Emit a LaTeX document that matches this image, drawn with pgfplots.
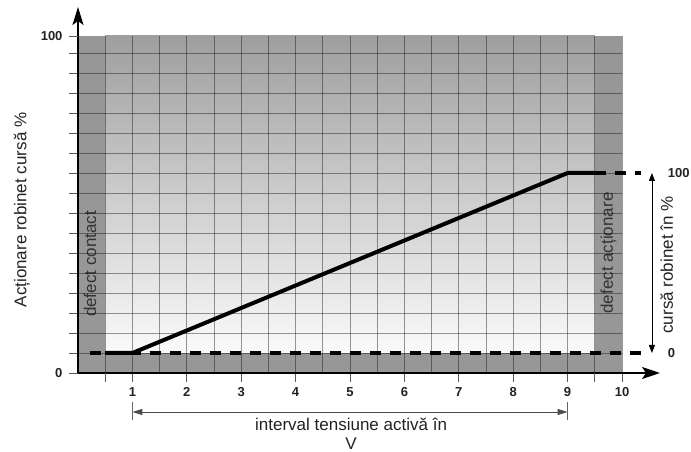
\documentclass[border=0pt]{standalone}
\usepackage{pgfplots}
\pgfplotsset{compat=1.18}
\usepackage{fontspec}
\setmainfont{Liberation Sans}
\usetikzlibrary{arrows.meta}
\definecolor{band}{HTML}{979797}
\definecolor{shtop}{HTML}{9F9F9F}
\definecolor{shbot}{HTML}{FAFAFA}
\definecolor{txt}{HTML}{222222}
\definecolor{lbl}{HTML}{333333}

\begin{document}
\begin{tikzpicture}
\path[use as bounding box] (-78pt,-79pt) rectangle (613pt,373pt);
\begin{axis}[
  at={(0,0)}, anchor=south west,
  scale only axis, width=544pt, height=337pt,
  xmin=0, xmax=10, ymin=0, ymax=16.85,
  axis lines=left, axis on top, clip=false,
  x axis line style={line width=1.8pt, -{Stealth[length=18pt,width=12pt,inset=4pt]}, shorten >=-38pt},
  y axis line style={line width=1.8pt, -{Stealth[length=18pt,width=11pt,inset=4pt]}, shorten >=-29pt},
  tick align=outside,
  major tick length=9pt, minor tick length=0pt,
  tick style={black!65, line width=0.8pt},
  xtick={1,...,10},
  minor xtick={1.5,2.5,...,8.5},
  extra x ticks={0.5,9.5}, extra x tick labels={},
  extra x tick style={grid=major},
  ytick={0,...,16},
  yticklabels={0,,,,,,,,,,,,,,,,},
  extra y ticks={16.85}, extra y tick labels={100},
  extra y tick style={grid=none},
  grid=both,
  major grid style={black, opacity=0.4, line width=0.7pt},
  minor grid style={black, opacity=0.4, line width=0.7pt},
  /pgf/number format/assume math mode=true,
  ticklabel style={font=\fontsize{13}{15}\selectfont\bfseries, text=txt},
  xticklabel style={yshift=-2pt},
  yticklabel style={xshift=-3pt},
]
% background bands (left, right, bottom)
\addplot[draw=none, fill=band] coordinates {(0,0) (10,0) (10,16.85) (0,16.85)} -- cycle;
% shaded working area
\addplot[draw=none, shading=axis, top color=shtop, bottom color=shbot]
  coordinates {(0.5,1) (9.5,1) (9.5,16.85) (0.5,16.85)} -- cycle;

% reference levels 0 % and 100 %
\addplot[black, line width=3.5pt, dash pattern=on 11pt off 9pt] coordinates {(0.22,1) (10.35,1)};
\addplot[black, line width=3.5pt, dash pattern=on 11pt off 9pt] coordinates {(9.5,10) (10.35,10)};
% characteristic
\addplot[black, line width=4pt, line join=round] coordinates {(0.5,1) (1,1) (9,10) (9.5,10)};

% annotations
\draw[line width=0.8pt, {Triangle[length=8pt,width=6pt]}-{Triangle[length=8pt,width=6pt]}]
  (axis cs:10.55,10) -- (axis cs:10.55,1);
\node[anchor=west, font=\fontsize{13}{15}\selectfont\bfseries, text=txt] at (axis cs:10.78,10) {100};
\node[anchor=west, font=\fontsize{13}{15}\selectfont\bfseries, text=txt] at (axis cs:10.78,1) {0};
\node[rotate=90, font=\fontsize{17}{20}\selectfont, text=txt] at (axis cs:10.82,5.4) {cursă robinet în \%};
\node[rotate=90, font=\fontsize{17}{20}\selectfont, text=lbl] at (axis cs:9.75,6.0) {defect acționare};
\node[rotate=90, font=\fontsize{17}{20}\selectfont, text=lbl] at (axis cs:0.22,5.45) {defect contact};
\node[rotate=90, font=\fontsize{17}{20}\selectfont, text=txt] at (axis cs:-1.03,8.15) {Acționare robinet cursă \%};

\draw[line width=0.8pt, black!70, {Triangle[length=10pt,width=6pt]}-{Triangle[length=10pt,width=6pt]}]
  (axis cs:1,-1.95) -- (axis cs:9,-1.95);
\draw[line width=0.8pt, black!60] (axis cs:1,-1.45) -- (axis cs:1,-2.35);
\draw[line width=0.8pt, black!60] (axis cs:9,-1.45) -- (axis cs:9,-2.35);
\node[align=center, font=\fontsize{17}{19}\selectfont, text=txt, inner sep=0pt] at (axis cs:5.02,-3.02) {interval tensiune activă în\\V};
\end{axis}
\end{tikzpicture}
\end{document}
